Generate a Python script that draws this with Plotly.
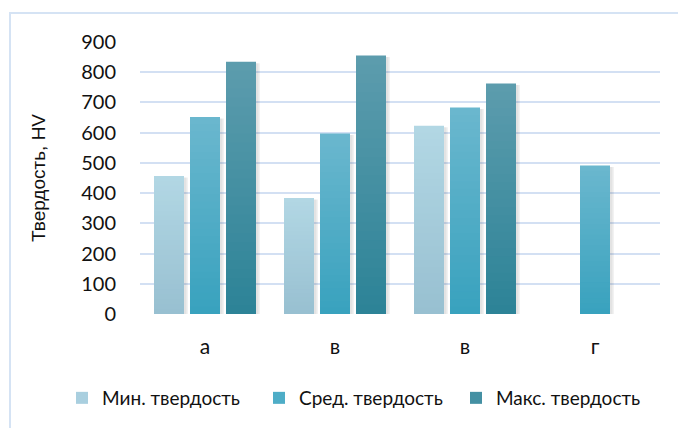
import plotly.graph_objects as go

# Sample groups and hardness values (HV)
categories = ["а", "в", "в", "г"]
min_hardness = [457, 384, 623, None]
avg_hardness = [652, 597, 683, 491]
max_hardness = [835, 855, 763, None]
series_names = ["Мин. твердость", "Сред. твердость", "Макс. твердость"]
y_ticks = [0, 100, 200, 300, 400, 500, 600, 700, 800, 900]

# Top / bottom colours of each series' vertical gradient
gradients = [
    ((178, 215, 228), (152, 192, 209)),
    ((106, 183, 206), (57, 162, 190)),
    ((92, 156, 173), (45, 131, 151)),
]
legend_colors = ["#a9cfdf", "#4eadc7", "#4490a3"]

W, H = 678, 428
L, R, T, B = 140, 18, 42, 114
plot_w = W - L - R
plot_h = H - T - B

slot = 36 / 130          # spacing between bars inside a group (category units)
bar_w = 30 / 130         # bar width (category units)
px = 1 / 130             # one pixel in category units
N_STEPS = 28

fig = go.Figure()
x_pos = list(range(len(categories)))
all_series = [min_hardness, avg_hardness, max_hardness]

# soft drop shadow behind the bars
for s, vals in enumerate(all_series):
    center = (s - 1) * slot
    for shift, alpha in ((4, 0.05), (2.5, 0.06)):
        fig.add_trace(go.Bar(
            x=x_pos,
            y=[None if v is None else max(v - 5, 0) for v in vals],
            offset=center - bar_w / 2 + shift * px,
            width=bar_w,
            marker=dict(color=f"rgba(0,0,0,{alpha})", line=dict(width=0)),
            showlegend=False, hoverinfo="skip",
        ))

# gradient bars built from stacked, progressively shorter layers
for s, vals in enumerate(all_series):
    center = (s - 1) * slot
    top, bot = gradients[s]
    for k in range(N_STEPS):
        f = k / (N_STEPS - 1)
        c = tuple(round(top[i] + (bot[i] - top[i]) * f) for i in range(3))
        frac = 1 - k / N_STEPS
        fig.add_trace(go.Bar(
            x=x_pos,
            y=[None if v is None else v * frac for v in vals],
            offset=center - bar_w / 2,
            width=bar_w,
            marker=dict(color=f"rgb{c}", line=dict(width=0)),
            name=series_names[s],
            legendgroup=series_names[s],
            showlegend=False,
            hovertext=[None if v is None else f"{series_names[s]}: {v}" for v in vals],
            hoverinfo="text",
        ))

# legend entries
for s in range(3):
    fig.add_trace(go.Bar(
        x=[None], y=[None], name=series_names[s], legendgroup=series_names[s],
        marker=dict(color=legend_colors[s], line=dict(width=0)),
    ))

# chart area border (light blue frame)
fig.add_shape(
    type="rect", xref="paper", yref="paper",
    x0=(10 - L) / plot_w, x1=(700 - L) / plot_w,
    y0=(H - B - 460) / plot_h, y1=(H - B - 13) / plot_h,
    line=dict(color="#d5e3f4", width=2), fillcolor="rgba(0,0,0,0)", layer="below",
)

fig.update_layout(
    width=W, height=H,
    margin=dict(l=L, r=R, t=T, b=B, pad=0, autoexpand=False),
    barmode="overlay",
    paper_bgcolor="white", plot_bgcolor="white",
    font=dict(family="Lato, sans-serif", color="#111111"),
    showlegend=True,
    legend=dict(
        orientation="h",
        x=(62 - L) / plot_w, xanchor="left",
        y=(H - B - 398) / plot_h, yanchor="middle",
        font=dict(size=19, family="Lato, sans-serif", color="#111111"),
        itemwidth=30, entrywidth=152, entrywidthmode="pixels",
        traceorder="normal", bgcolor="rgba(0,0,0,0)",
    ),
    xaxis=dict(
        range=[-0.5, 3.5], tickvals=x_pos, ticktext=categories,
        showgrid=False, zeroline=False, showline=False, ticks="",
        tickfont=dict(size=21), ticklabelstandoff=18,
    ),
    yaxis=dict(
        range=[0, 900], tickvals=y_ticks,
        showgrid=True, gridcolor="#d3e0f3", gridwidth=1.6,
        zeroline=False, showline=False, ticks="",
        tickfont=dict(size=20), ticklabelstandoff=23,
        title=dict(text="Твердость, HV",
                   font=dict(size=19, family="Liberation Sans, Arial, sans-serif"),
                   standoff=30),
    ),
)

fig.write_html("out.html")
